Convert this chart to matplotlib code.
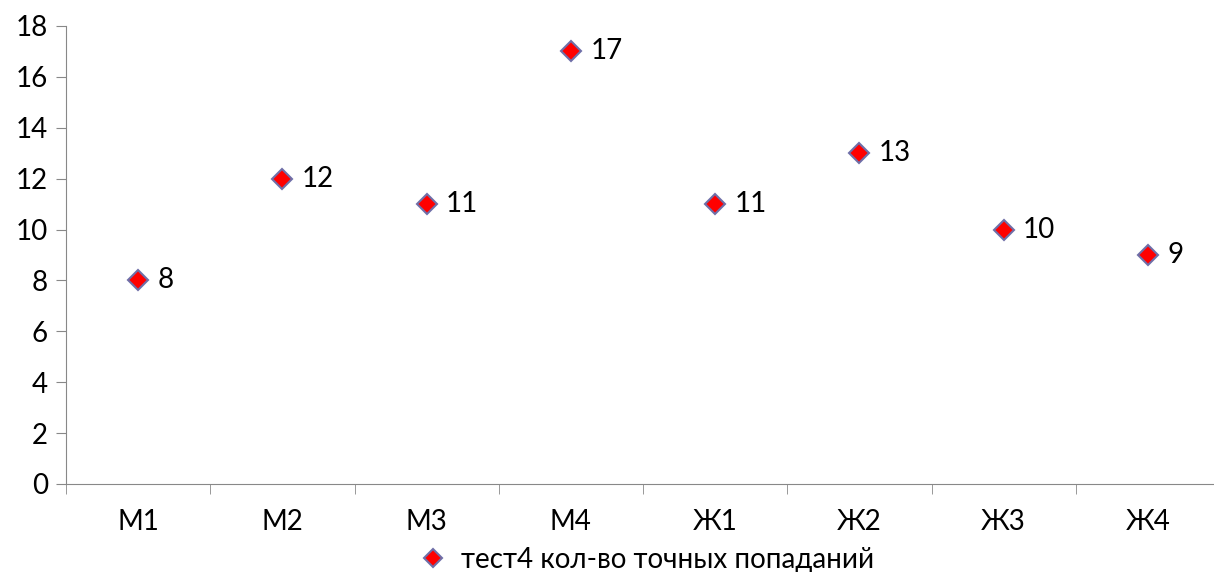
import matplotlib.pyplot as plt
import numpy as np

plt.rcParams['font.family'] = ['Lato', 'DejaVu Sans']

categories = ['М1', 'М2', 'М3', 'М4', 'Ж1', 'Ж2', 'Ж3', 'Ж4']
values = [8, 12, 11, 17, 11, 13, 10, 9]
series_name = 'тест4 кол-во точных попаданий'

fig = plt.figure(figsize=(12.14, 5.72), dpi=100)
ax = fig.add_axes([66/1214, 88/572, 1154/1214, 458/572])

x = np.arange(len(categories))
ax.plot(x, values, linestyle='none', marker='D', markersize=10.5,
        markerfacecolor='#ff0000', markeredgecolor='#6f6fa8', markeredgewidth=1.5,
        label=series_name)
for xi, v in zip(x, values):
    ax.annotate(str(v), (xi, v), xytext=(14, 0), textcoords='offset points',
                va='center', ha='left', fontsize=20)

ax.set_xlim(-0.5, len(categories) - 0.5)
ax.set_ylim(0, 18)
ax.set_yticks(range(0, 19, 2))
ax.set_xticks(x)
ax.set_xticklabels(categories)
ax.set_xticks(np.arange(-0.5, len(categories)), minor=True)
ax.tick_params(axis='x', which='major', length=0, pad=18, labelsize=20)
ax.tick_params(axis='x', which='minor', length=7, color='#888888', direction='out')
ax.tick_params(axis='y', length=7, color='#888888', labelsize=20, pad=6)

for s in ['top', 'right']:
    ax.spines[s].set_visible(False)
for s in ['left', 'bottom']:
    ax.spines[s].set_color('#888888')

fig.legend(loc='center', bbox_to_anchor=(640/1214, 1 - 560/572), frameon=False,
           fontsize=20, handletextpad=0.0, markerscale=0.9)

fig.savefig('out.png', dpi=100)
